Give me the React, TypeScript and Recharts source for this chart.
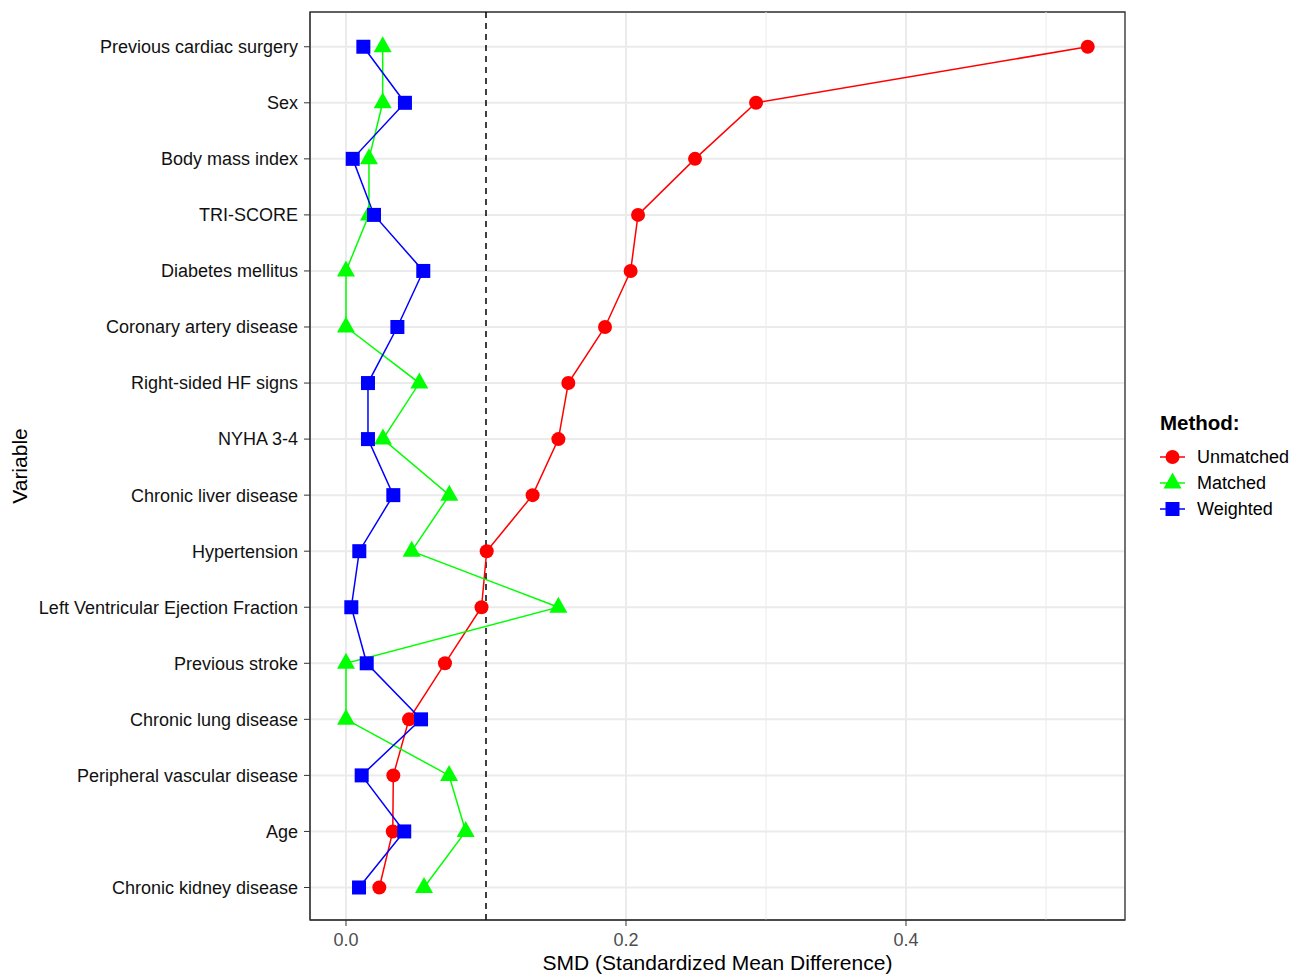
import { CartesianGrid, Label, Legend, Line, LineChart, ReferenceArea, ReferenceLine, XAxis, YAxis } from 'recharts'

const VARIABLES = [
  'Previous cardiac surgery',
  'Sex',
  'Body mass index',
  'TRI-SCORE',
  'Diabetes mellitus',
  'Coronary artery disease',
  'Right-sided HF signs',
  'NYHA 3-4',
  'Chronic liver disease',
  'Hypertension',
  'Left Ventricular Ejection Fraction',
  'Previous stroke',
  'Chronic lung disease',
  'Peripheral vascular disease',
  'Age',
  'Chronic kidney disease',
]

const UNMATCHED = [0.5298, 0.2929, 0.2493, 0.2086, 0.2033, 0.185, 0.1588, 0.1517, 0.1333, 0.1005, 0.0968, 0.0707, 0.045, 0.0338, 0.0334, 0.0238]
const MATCHED = [0.0262, 0.0262, 0.0164, 0.0164, 0, 0, 0.0524, 0.0264, 0.0738, 0.0469, 0.1517, 0, 0, 0.0736, 0.0855, 0.0557]
const WEIGHTED = [0.0124, 0.0421, 0.0048, 0.02, 0.0552, 0.0367, 0.0157, 0.0157, 0.0338, 0.0095, 0.0038, 0.0148, 0.0536, 0.0112, 0.0416, 0.0093]

const X_TICKS = [0, 0.2, 0.4]
const X_MINOR = [0.3, 0.5]
const THRESHOLD = 0.1
const X_DOMAIN: [number, number] = [-0.025714, 0.556429]
const Y_DOMAIN: [number, number] = [-0.62, 15.58]

const FONT = '"Liberation Sans", Arial, Helvetica, sans-serif'

const data = VARIABLES.map((name, idx) => ({
  idx,
  name,
  unmatched: UNMATCHED[idx],
  matched: MATCHED[idx],
  weighted: WEIGHTED[idx],
}))

const SERIES = [
  { key: 'unmatched', label: 'Unmatched', color: '#FF0000', shape: 'circle' },
  { key: 'matched', label: 'Matched', color: '#00FF00', shape: 'triangle' },
  { key: 'weighted', label: 'Weighted', color: '#0000FF', shape: 'square' },
]

function Marker({ shape, cx, cy, color }: { shape: string; cx: number; cy: number; color: string }) {
  if (shape === 'circle') return <circle cx={cx} cy={cy} r={7} fill={color} />
  if (shape === 'square') return <rect x={cx - 7} y={cy - 7} width={14} height={14} fill={color} />
  return <path d={`M${cx},${cy - 10.5}L${cx + 9},${cy + 5.5}L${cx - 9},${cy + 5.5}Z`} fill={color} />
}

function MethodLegend() {
  return (
    <div style={{ position: 'relative', width: 142, height: 125, fontFamily: FONT, color: '#000' }}>
      <div style={{ position: 'absolute', left: 10, top: 11, fontSize: 20.5, fontWeight: 'bold', lineHeight: '24px' }}>Method:</div>
      {SERIES.map((s, i) => (
        <div key={s.key} style={{ position: 'absolute', left: 0, top: 44 + i * 26, height: 26, display: 'flex', alignItems: 'center' }}>
          <svg width={44} height={26} style={{ display: 'block' }}>
            <line x1={10} x2={35} y1={13} y2={13} stroke={s.color} strokeWidth={1.5} />
            <Marker shape={s.shape} cx={22.5} cy={13} color={s.color} />
          </svg>
          <span style={{ marginLeft: 3, fontSize: 18, lineHeight: '26px' }}>{s.label}</span>
        </div>
      ))}
    </div>
  )
}

export default function App() {
  return (
    <div style={{ position: 'absolute', left: 0, top: 0, width: 1292, height: 974, background: '#fff' }}>
      <LineChart
        width={1292}
        height={974}
        data={data}
        layout="vertical"
        margin={{ top: 12, right: 167, bottom: 0, left: 0 }}
      >
        <CartesianGrid stroke="#EBEBEB" strokeWidth={2} />
        {X_MINOR.map((v) => (
          <ReferenceLine key={v} x={v} stroke="#EBEBEB" strokeWidth={1} />
        ))}
        <XAxis
          type="number"
          dataKey="unmatched"
          domain={X_DOMAIN}
          allowDataOverflow
          ticks={X_TICKS}
          tickFormatter={(v: number) => v.toFixed(1)}
          tickSize={6}
          tickMargin={7}
          height={54}
          stroke="#333333"
          tick={{ fill: '#4D4D4D', fontSize: 18, fontFamily: FONT }}
        >
          <Label
            value="SMD (Standardized Mean Difference)"
            position="insideBottom"
            offset={4}
            style={{ fontSize: 21, fontFamily: FONT, fill: '#000' }}
          />
        </XAxis>
        <YAxis
          type="number"
          dataKey="idx"
          domain={Y_DOMAIN}
          allowDataOverflow
          ticks={VARIABLES.map((_, i) => i)}
          interval={0}
          tickFormatter={(i: number) => VARIABLES[i] ?? ''}
          width={310}
          tickSize={6}
          tickMargin={6}
          stroke="#333333"
          tick={{ fill: '#111111', fontSize: 18, fontFamily: FONT }}
        >
          <Label
            value="Variable"
            angle={-90}
            position="insideLeft"
            offset={20}
            style={{ fontSize: 21, fontFamily: FONT, fill: '#000', textAnchor: 'middle' }}
          />
        </YAxis>
        <ReferenceLine x={THRESHOLD} stroke="#000" strokeWidth={1.5} strokeDasharray="6 5" />
        <ReferenceArea
          x1={X_DOMAIN[0]}
          x2={X_DOMAIN[1]}
          y1={Y_DOMAIN[0]}
          y2={Y_DOMAIN[1]}
          fill="none"
          stroke="#333333"
          strokeWidth={1.3}
          fillOpacity={0}
        />
        {SERIES.map((s) => (
          <Line
            key={`line-${s.key}`}
            dataKey={s.key}
            stroke={s.color}
            strokeWidth={1.5}
            dot={false}
            activeDot={false}
            isAnimationActive={false}
            legendType="none"
          />
        ))}
        {SERIES.map((s) => (
          <Line
            key={`pts-${s.key}`}
            dataKey={s.key}
            stroke="none"
            activeDot={false}
            isAnimationActive={false}
            legendType="none"
            dot={(p: any) => <Marker key={`${s.key}-${p.index}`} shape={s.shape} cx={p.cx} cy={p.cy} color={s.color} />}
          />
        ))}
        <Legend
          layout="vertical"
          align="center"
          verticalAlign="middle"
          wrapperStyle={{ left: 1150, top: 400, width: 142 }}
          content={() => <MethodLegend />}
        />
      </LineChart>
    </div>
  )
}
